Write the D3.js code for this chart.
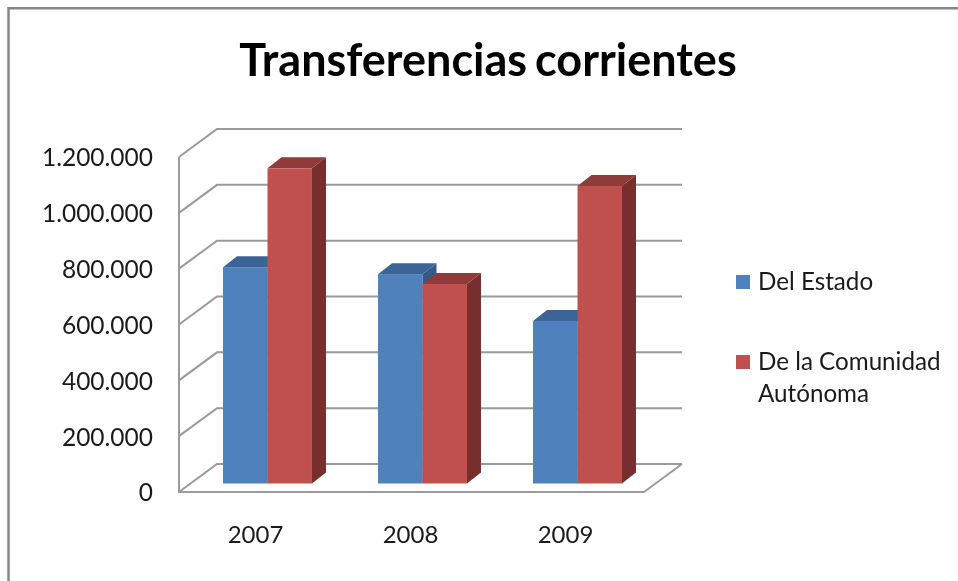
<!DOCTYPE html>
<html>
<head>
<meta charset="utf-8">
<script src="https://cdn.jsdelivr.net/npm/d3@7"></script>
<style>
  html, body { margin: 0; padding: 0; background: #fff; }
  svg { display: block; filter: blur(0.4px); }
  text { font-family: Lato, "Open Sans", sans-serif; fill: #1a1a1a; }
  .tick line, .domain { display: none; }
</style>
</head>
<body>
<div id="chart"></div>
<script>
var years = ["2007", "2008", "2009"];
var seriesNames = ["Del Estado", "De la Comunidad Autónoma"];
var delEstado = [775000, 750000, 582000];
var deLaComunidad = [1129000, 715000, 1066000];
var yTicks = [0, 200000, 400000, 600000, 800000, 1000000, 1200000];

var width = 958, height = 581;

// plot box of the front wall, the rest is offset from it
var plot = { left: 179, right: 644, top: 157, bottom: 492 };
var wall = { dx: 38, dy: -28 };      // floor depth
var barShift = { dx: 11, dy: -8.5 }; // bars stand inside the floor
var barDepth = { dx: 14, dy: -11 };

var colors = [
  { front: "#4f81bd", top: "#3c6496", side: "#345a88" },
  { front: "#c0504d", top: "#8e3b39", side: "#772f2d" }
];
var gridColor = "#9a9a9a";

var svg = d3.select("#chart").append("svg")
  .attr("width", width)
  .attr("height", height);

// outer frame, only top and left are in the picture
svg.append("path")
  .attr("d", d3.line()([[8.5, height], [8.5, 8.3], [width, 8.3]]))
  .attr("fill", "none")
  .attr("stroke", "#868686")
  .attr("stroke-width", 2.5);

svg.append("text")
  .attr("x", 488)
  .attr("y", 76)
  .attr("text-anchor", "middle")
  .style("font-size", "45px")
  .style("font-weight", 700)
  .style("fill", "#000")
  .style("word-spacing", "-3px")
  .text("Transferencias corrientes");

var x = d3.scaleBand().domain(years).range([plot.left, plot.right]);
var y = d3.scaleLinear().domain([0, 1200000]).range([plot.bottom, plot.top]);
var xInner = d3.scaleBand().domain([0, 1]).range([x.bandwidth() * 0.213, x.bandwidth() * 0.787]);

// gridlines: back wall + side wall
var line = d3.line();
var grid = svg.append("g")
  .attr("fill", "none")
  .attr("stroke", gridColor)
  .attr("stroke-width", 2);

grid.selectAll("path")
  .data(yTicks)
  .enter().append("path")
  .attr("d", function (d) {
    return line([
      [plot.left, y(d)],
      [plot.left + wall.dx, y(d) + wall.dy],
      [plot.right + wall.dx, y(d) + wall.dy]
    ]);
  });

// floor front edge and right edge, and the vertical axis
grid.append("path")
  .attr("d", line([
    [plot.left, plot.top],
    [plot.left, plot.bottom],
    [plot.right, plot.bottom],
    [plot.right + wall.dx, plot.bottom + wall.dy]
  ]));

// bars
var bars = [];
years.forEach(function (yr, i) {
  bars.push({ year: yr, s: 0, value: delEstado[i] });
  bars.push({ year: yr, s: 1, value: deLaComunidad[i] });
});

var bar = svg.selectAll(".bar")
  .data(bars)
  .enter().append("g")
  .attr("class", "bar");

function corners(d) {
  var x0 = x(d.year) + xInner(d.s) + barShift.dx;
  return {
    x0: x0,
    x1: x0 + xInner.bandwidth(),
    y0: y(d.value) + barShift.dy,
    y1: y(0) + barShift.dy
  };
}

bar.append("path") // side
  .attr("fill", function (d) { return colors[d.s].side; })
  .attr("d", function (d) {
    var c = corners(d);
    return line([
      [c.x1, c.y0],
      [c.x1 + barDepth.dx, c.y0 + barDepth.dy],
      [c.x1 + barDepth.dx, c.y1 + barDepth.dy],
      [c.x1, c.y1]
    ]) + "Z";
  });

bar.append("path") // top
  .attr("fill", function (d) { return colors[d.s].top; })
  .attr("d", function (d) {
    var c = corners(d);
    return line([
      [c.x0, c.y0],
      [c.x0 + barDepth.dx, c.y0 + barDepth.dy],
      [c.x1 + barDepth.dx, c.y0 + barDepth.dy],
      [c.x1, c.y0]
    ]) + "Z";
  });

bar.append("rect") // front
  .attr("fill", function (d) { return colors[d.s].front; })
  .attr("x", function (d) { return corners(d).x0; })
  .attr("y", function (d) { return corners(d).y0; })
  .attr("width", xInner.bandwidth())
  .attr("height", function (d) { var c = corners(d); return c.y1 - c.y0; });

// axes
var yAxis = svg.append("g")
  .attr("transform", "translate(" + plot.left + ",1)")
  .call(d3.axisLeft(y).tickValues(yTicks).tickSize(0).tickPadding(26)
    .tickFormat(function (d) { return d3.format(",")(d).replace(/,/g, "."); }));
yAxis.selectAll("text").style("font-size", "24.5px").style("font-family", "Lato");

var xAxis = svg.append("g")
  .attr("transform", "translate(-1," + plot.bottom + ")")
  .call(d3.axisBottom(x).tickSize(0).tickPadding(34));
xAxis.selectAll("text").style("font-size", "24px").style("font-family", "Lato");

// legend
var legendRows = [
  { s: 0, lines: ["Del Estado"], y: 289 },
  { s: 1, lines: ["De la Comunidad", "Autónoma"], y: 369 }
];
var legend = svg.selectAll(".legend")
  .data(legendRows)
  .enter().append("g")
  .attr("class", "legend");

legend.append("rect")
  .attr("x", 736)
  .attr("y", function (d) { return d.y - 14; })
  .attr("width", 14)
  .attr("height", 14)
  .attr("fill", function (d) { return colors[d.s].front; });

legend.append("text")
  .style("font-size", "24.2px")
  .attr("y", function (d) { return d.y + 1; })
  .selectAll("tspan")
  .data(function (d) { return d.lines; })
  .enter().append("tspan")
  .attr("x", 758)
  .attr("dy", function (d, i) { return i ? 32 : 0; })
  .text(function (d) { return d; });
</script>
</body>
</html>
